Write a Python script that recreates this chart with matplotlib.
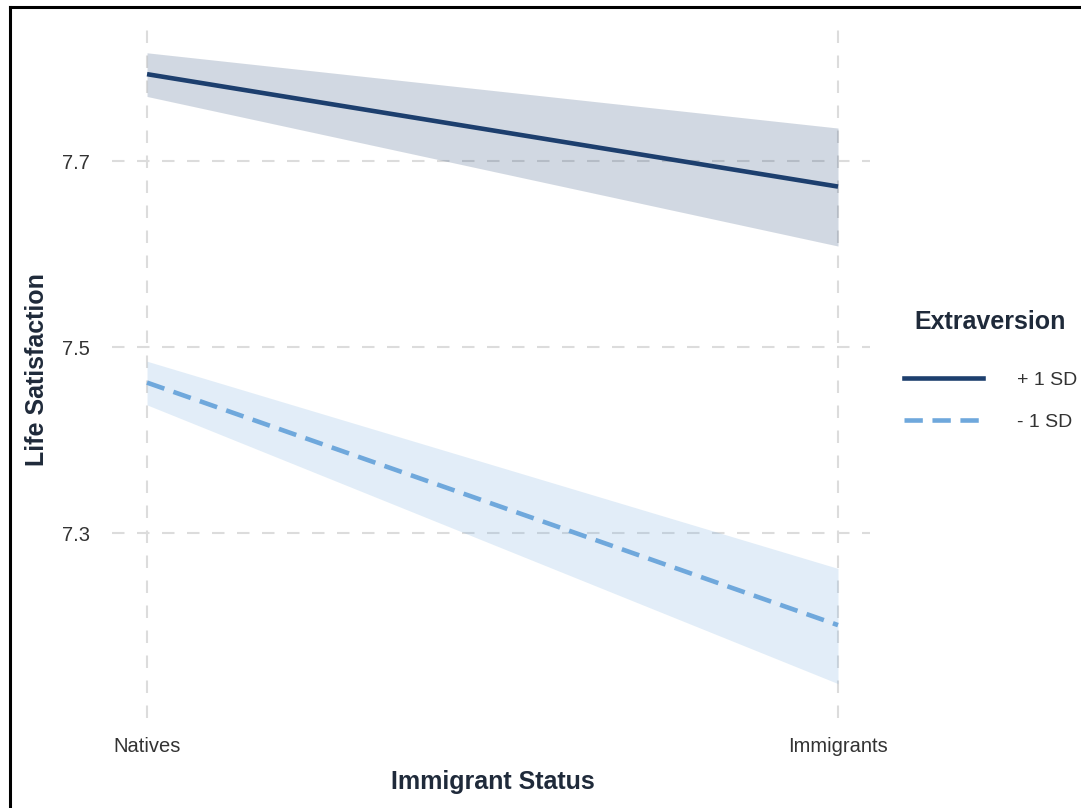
import matplotlib
matplotlib.use("Agg")
import matplotlib.pyplot as plt
from matplotlib.lines import Line2D

plt.rcParams["font.family"] = ["Liberation Sans", "DejaVu Sans"]

status = ["Natives", "Immigrants"]
groups = ["+ 1 SD", "- 1 SD"]
fit_high = [7.794, 7.673]
lo_high = [7.770, 7.609]
hi_high = [7.817, 7.736]
fit_low = [7.462, 7.201]
lo_low = [7.438, 7.138]
hi_low = [7.485, 7.262]
y_ticks = [7.3, 7.5, 7.7]

colors = {"+ 1 SD": "#1d3f6e", "- 1 SD": "#6fa8dc"}
text_col = "#1f2a3a"
W, H = 1081, 808

fig = plt.figure(figsize=(W / 100, H / 100), dpi=100)
ax = fig.add_axes([112 / W, 1 - 718 / H, (870 - 112) / W, (718 - 20) / H])

x = list(range(len(status)))
grid_kw = dict(color="#dcdcdc", lw=1.5, dashes=(6, 6), zorder=0)
for yt in y_ticks:
    ax.axhline(yt, **grid_kw)
for xt in x:
    ax.axvline(xt, **grid_kw)

dash = (4.0, 2.1)
ax.fill_between(x, lo_high, hi_high, color=colors["+ 1 SD"], alpha=0.2, lw=0, zorder=1)
ax.fill_between(x, lo_low, hi_low, color=colors["- 1 SD"], alpha=0.2, lw=0, zorder=1)
ax.plot(x, fit_high, color=colors["+ 1 SD"], lw=3.3, solid_capstyle="butt", zorder=2)
ax.plot(x, fit_low, color=colors["- 1 SD"], lw=3.3, dashes=dash, zorder=2)

ax.set_xlim(-0.0507, 1.0463)
ax.set_ylim(7.101, 7.8523)
ax.set_xticks(x)
ax.set_xticklabels(status)
ax.set_yticks(y_ticks)
ax.set_yticklabels([f"{v:.1f}" for v in y_ticks])
ax.tick_params(length=0, labelsize=14.5, labelcolor="#333333")
ax.tick_params(axis="y", pad=16)
ax.tick_params(axis="x", pad=14)
for s in ax.spines.values():
    s.set_visible(False)

ax.set_xlabel("Immigrant Status", fontsize=18, fontweight="bold", color=text_col)
ax.set_ylabel("Life Satisfaction", fontsize=18, fontweight="bold", color=text_col)
ax.xaxis.set_label_coords(493 / W, 1 - 782 / H, transform=fig.transFigure)
ax.yaxis.set_label_coords(37 / W, 1 - 370 / H, transform=fig.transFigure)
ax.xaxis.label.set_va("center")
ax.yaxis.label.set_va("center")

handles = [
    Line2D([0], [0], color=colors["+ 1 SD"], lw=3.3),
    Line2D([0], [0], color=colors["- 1 SD"], lw=3.3, dashes=dash),
]
leg = fig.legend(handles, groups, title="Extraversion", loc="center left",
                 bbox_to_anchor=(888 / W, 1 - 370.5 / H), frameon=False,
                 fontsize=14, title_fontproperties={"weight": "bold", "size": 18},
                 handlelength=4.1, handletextpad=1.75, labelspacing=1.26,
                 borderpad=0.3)
leg.get_title().set_color(text_col)
leg._legend_box.sep = 27
for t in leg.get_texts():
    t.set_color("#333333")

# black frame around the figure (cut at right and bottom)
fig.add_artist(Line2D([10 / W, 10 / W], [0, 1 - 7 / H], color="black", lw=2.2))
fig.add_artist(Line2D([10 / W, 1], [1 - 7 / H, 1 - 7 / H], color="black", lw=2.2))

fig.savefig("out.png", dpi=100)
